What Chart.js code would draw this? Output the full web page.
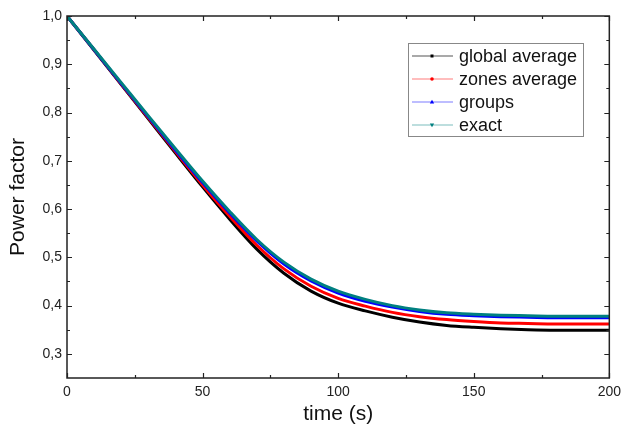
<!DOCTYPE html>
<html>
<head>
<meta charset="utf-8">
<script src="https://cdn.jsdelivr.net/npm/chart.js@4/dist/chart.umd.min.js"></script>
<style>
  html, body { margin: 0; padding: 0; background: #fff; }
  #wrap { width: 627px; height: 431px; position: relative; }
</style>
</head>
<body>
<div id="wrap"><canvas id="pf-chart"></canvas></div>
<script>
// --- data ---
const times = [0, 10, 20, 30, 40, 50, 60, 70, 80, 90, 100, 110, 120, 130, 140, 150, 160, 170, 180, 190, 200];

const globalAverage = [1.0, 0.929, 0.858, 0.787, 0.716, 0.646, 0.579, 0.517, 0.467, 0.430, 0.405, 0.389, 0.376, 0.366, 0.359, 0.355, 0.352, 0.350, 0.349, 0.349, 0.349];
const zonesAverage  = [1.0, 0.930, 0.859, 0.789, 0.719, 0.650, 0.585, 0.525, 0.476, 0.440, 0.415, 0.399, 0.386, 0.377, 0.371, 0.367, 0.364, 0.363, 0.362, 0.362, 0.362];
const groups        = [1.0, 0.930, 0.860, 0.791, 0.722, 0.655, 0.592, 0.534, 0.486, 0.451, 0.426, 0.409, 0.397, 0.388, 0.382, 0.379, 0.377, 0.376, 0.375, 0.375, 0.375];
const exact         = [1.0, 0.931, 0.862, 0.793, 0.725, 0.658, 0.595, 0.537, 0.490, 0.455, 0.430, 0.413, 0.400, 0.391, 0.385, 0.382, 0.380, 0.379, 0.378, 0.378, 0.378];

const seriesNames = ['global average', 'zones average', 'groups', 'exact'];

const xTickValues = [0, 50, 100, 150, 200];
const xMinorTicks = [25, 75, 125, 175];
const yTickValues = [0.3, 0.4, 0.5, 0.6, 0.7, 0.8, 0.9, 1.0];
const yMinorTicks = [0.35, 0.45, 0.55, 0.65, 0.75, 0.85, 0.95];

const FONT = 'Liberation Sans, Arial, sans-serif';
const lineColors   = ['#000000', '#ff0000', '#0000ff', '#008080'];
const legendColors = ['rgba(0,0,0,0.45)', 'rgba(255,0,0,0.35)', 'rgba(0,0,255,0.35)', 'rgba(0,128,128,0.35)'];
const markerShapes = ['square', 'circle', 'tri-up', 'tri-down'];

function toPoints(values) {
    return times.map((t, i) => ({ x: t, y: values[i] }));
}

// frame, inward ticks on all four sides and the legend box
const framePlugin = {
    id: 'frame',
    afterDraw(chart) {
        const ctx = chart.ctx;
        const a = chart.chartArea;
        const xs = chart.scales.x;
        const ys = chart.scales.y;
        ctx.save();
        ctx.strokeStyle = '#222';
        ctx.lineWidth = 1.5;
        ctx.strokeRect(a.left, a.top, a.right - a.left, a.bottom - a.top);

        ctx.lineWidth = 1.2;
        function xTick(v, len) {
            const px = Math.round(xs.getPixelForValue(v)) + 0.5;
            ctx.beginPath();
            ctx.moveTo(px, a.bottom); ctx.lineTo(px, a.bottom - len);
            ctx.moveTo(px, a.top); ctx.lineTo(px, a.top + len);
            ctx.stroke();
        }
        function yTick(v, len) {
            const py = Math.round(ys.getPixelForValue(v)) + 0.5;
            ctx.beginPath();
            ctx.moveTo(a.left, py); ctx.lineTo(a.left + len, py);
            ctx.moveTo(a.right, py); ctx.lineTo(a.right - len, py);
            ctx.stroke();
        }
        xTickValues.forEach(v => xTick(v, 5));
        xMinorTicks.forEach(v => xTick(v, 3));
        yTickValues.forEach(v => yTick(v, 5));
        yMinorTicks.forEach(v => yTick(v, 3));

        // legend
        const bx = 408, by = 43, bw = 175, bh = 93;
        ctx.fillStyle = '#fff';
        ctx.fillRect(bx, by, bw, bh);
        ctx.strokeStyle = '#888';
        ctx.lineWidth = 1;
        ctx.strokeRect(bx + 0.5, by + 0.5, bw, bh);
        ctx.font = '18px ' + FONT;
        ctx.textBaseline = 'middle';
        ctx.textAlign = 'left';
        chart.data.datasets.forEach((ds, i) => {
            const y = 56 + i * 23;
            ctx.strokeStyle = legendColors[i];
            ctx.lineWidth = 1.5;
            ctx.beginPath();
            ctx.moveTo(412, y); ctx.lineTo(453, y);
            ctx.stroke();
            ctx.fillStyle = lineColors[i];
            const mx = 432;
            ctx.beginPath();
            if (markerShapes[i] === 'square') {
                ctx.rect(mx - 1.5, y - 1.5, 3, 3);
            } else if (markerShapes[i] === 'circle') {
                ctx.arc(mx, y, 1.8, 0, Math.PI * 2);
            } else if (markerShapes[i] === 'tri-up') {
                ctx.moveTo(mx, y - 2.2); ctx.lineTo(mx + 2.2, y + 1.6); ctx.lineTo(mx - 2.2, y + 1.6);
            } else {
                ctx.moveTo(mx, y + 2.2); ctx.lineTo(mx + 2.2, y - 1.6); ctx.lineTo(mx - 2.2, y - 1.6);
            }
            ctx.fill();
            ctx.fillStyle = '#111';
            ctx.fillText(ds.label, 459, y + 1);
        });
        ctx.restore();
    }
};

const allSeries = [globalAverage, zonesAverage, groups, exact];

new Chart(document.getElementById('pf-chart'), {
    type: 'line',
    data: {
        datasets: allSeries.map((vals, i) => ({
            label: seriesNames[i],
            data: toPoints(vals),
            borderColor: lineColors[i],
            backgroundColor: lineColors[i],
            borderWidth: 3,
            pointRadius: 0,
            cubicInterpolationMode: 'monotone',
            order: 4 - i
        }))
    },
    options: {
        responsive: true,
        maintainAspectRatio: false,
        animation: false,
        layout: { padding: { left: 0, top: 16, right: 14, bottom: 0 } },
        scales: {
            x: {
                type: 'linear',
                min: 0,
                max: 200,
                afterFit: s => { s.height = 53; },
                afterBuildTicks: s => { s.ticks = xTickValues.map(v => ({ value: v })); },
                grid: { display: false, drawTicks: false },
                border: { display: false },
                ticks: {
                    padding: 6,
                    color: '#222',
                    font: { family: FONT, size: 14 },
                    maxRotation: 0,
                    callback: v => String(v)
                },
                title: {
                    display: true,
                    text: 'time (s)',
                    color: '#111',
                    font: { family: FONT, size: 21 },
                    padding: { top: 0, bottom: 4 }
                }
            },
            y: {
                type: 'linear',
                min: 0.25,
                max: 1.0,
                afterFit: s => { s.width = 67; },
                afterBuildTicks: s => { s.ticks = yTickValues.map(v => ({ value: v })); },
                grid: { display: false, drawTicks: false },
                border: { display: false },
                ticks: {
                    padding: 5,
                    color: '#222',
                    font: { family: FONT, size: 14 },
                    callback: v => v.toFixed(1).replace('.', ',')
                },
                title: {
                    display: true,
                    text: 'Power factor',
                    color: '#111',
                    font: { family: FONT, size: 21 },
                    padding: { top: 6, bottom: 0 }
                }
            }
        },
        plugins: {
            legend: { display: false },
            tooltip: { enabled: false }
        }
    },
    plugins: [framePlugin]
});
</script>
</body>
</html>
